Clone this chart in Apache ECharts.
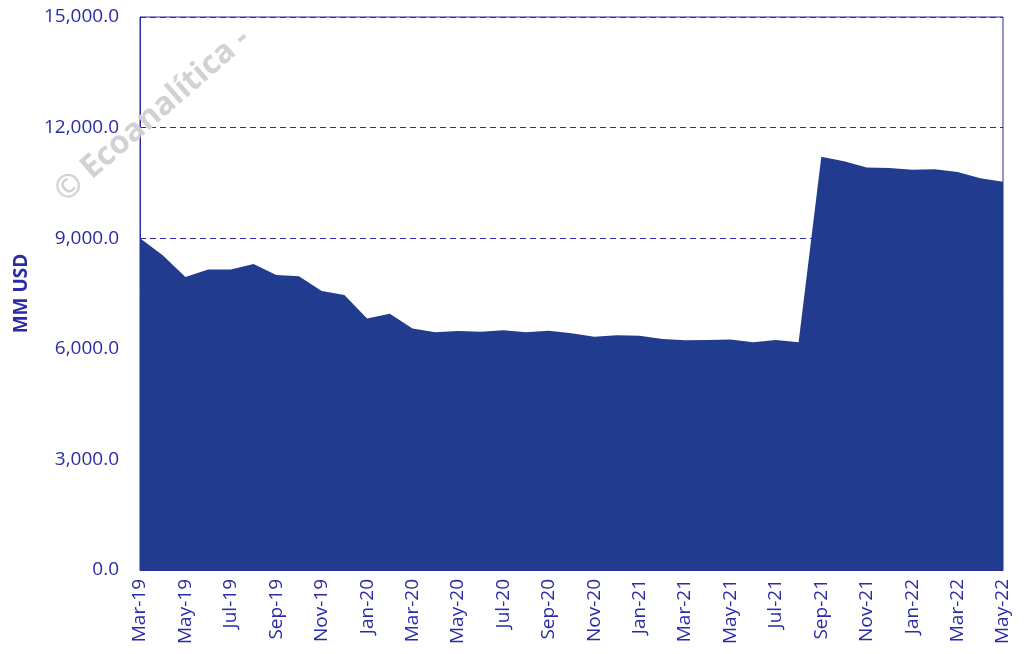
<!DOCTYPE html>
<html>
<head>
<meta charset="utf-8">
<script src="https://cdn.jsdelivr.net/npm/echarts@6/dist/echarts.min.js"></script>
<style>html,body{margin:0;padding:0;background:#fff}#c{width:1028px;height:654px}</style>
</head>
<body>
<div id="c"></div>
<script>
const categories = ["Mar-19","Apr-19","May-19","Jun-19","Jul-19","Aug-19","Sep-19","Oct-19","Nov-19","Dec-19",
"Jan-20","Feb-20","Mar-20","Apr-20","May-20","Jun-20","Jul-20","Aug-20","Sep-20","Oct-20","Nov-20","Dec-20",
"Jan-21","Feb-21","Mar-21","Apr-21","May-21","Jun-21","Jul-21","Aug-21","Sep-21","Oct-21","Nov-21","Dec-21",
"Jan-22","Feb-22","Mar-22","Apr-22","May-22"];
const reserves = [9000,8540,7950,8150,8150,8300,8000,7970,7570,7460,
6820,6950,6550,6450,6480,6460,6500,6450,6490,6420,6330,6365,
6355,6265,6230,6240,6255,6175,6240,6180,11210,11085,10920,10905,
10860,10870,10795,10625,10530];
const yTicks = {min: 0, max: 15000, interval: 3000};

const blue = '#2B2BA6';
const fill = '#213B8F';
const font = '"Open Sans", sans-serif';
const chart = echarts.init(document.getElementById('c'));
chart.setOption({
  animation: false,
  grid: {left: 140, right: 25, top: 17, bottom: 84, show: true, borderColor: blue, borderWidth: 1,
    containLabel: false, outerBoundsMode: 'none'},
  graphic: [{
    type: 'text', x: 49, y: 184, rotation: Math.PI * 41 / 180,
    style: {text: '© Ecoanalítica - ', fill: '#d2d2d2', font: 'bold 32px "Open Sans", sans-serif'},
    z: 100
  }],
  xAxis: {
    type: 'category', data: categories, boundaryGap: false,
    axisLine: {lineStyle: {color: blue}},
    axisTick: {show: false},
    axisLabel: {interval: 1, rotate: 90, color: blue, fontSize: 19, fontFamily: font, margin: 9},
    splitLine: {show: false}
  },
  yAxis: {
    type: 'value', min: yTicks.min, max: yTicks.max, interval: yTicks.interval,
    name: 'MM USD', nameLocation: 'middle', nameGap: 109,
    nameTextStyle: {color: blue, fontSize: 19, fontWeight: 'bold', fontFamily: font},
    axisLine: {show: true, lineStyle: {color: blue}},
    axisTick: {show: false},
    axisLabel: {color: blue, fontSize: 19, fontFamily: font, margin: 21,
      formatter: v => v.toLocaleString('en-US', {minimumFractionDigits: 1, maximumFractionDigits: 1})},
    splitLine: {show: true, lineStyle: {color: blue, type: [6, 4], width: 1.2}}
  },
  series: [{
    type: 'line', data: reserves, symbol: 'none',
    lineStyle: {width: 0, color: fill},
    areaStyle: {color: fill, opacity: 1}
  }]
});
</script>
</body>
</html>
